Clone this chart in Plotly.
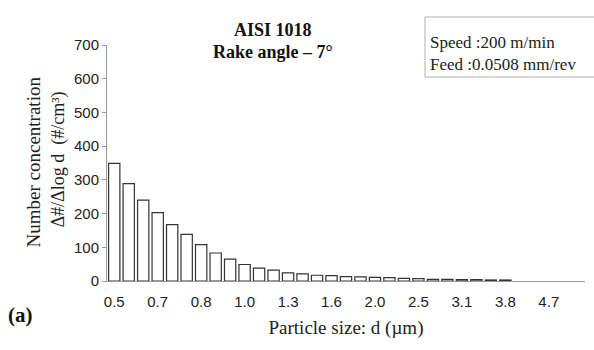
import plotly.graph_objects as go

# Aerodynamic particle size channels (µm) and number concentration dN/dlogd (#/cm³)
sizes = ["0.542", "0.583", "0.626", "0.673", "0.723", "0.777", "0.835", "0.898",
         "0.965", "1.037", "1.114", "1.197", "1.286", "1.382", "1.486", "1.596",
         "1.715", "1.843", "1.981", "2.129", "2.288", "2.458", "2.642", "2.839",
         "3.051", "3.278", "3.523", "3.786", "4.068", "4.371", "4.698", "5.048",
         "5.425"]
concentration = [349, 289, 240, 203, 167, 138, 108, 83, 65, 49, 38, 32, 24, 21,
                 17, 16, 13, 12, 11, 10, 8, 7, 5, 5, 4, 4, 3, 3, 0, 0, 0, 0, 0]

# every third channel is labelled, rounded to one decimal
tick_vals = sizes[::3]
tick_text = [f"{float(s):.1f}" for s in tick_vals]

W, H = 594, 350
L, R, T, B = 107, 9, 45, 69
plot_w = W - L - R
plot_h = H - T - B


def px(x):
    return (x - L) / plot_w


def py(y):
    return (H - B - y) / plot_h


serif = "Liberation Serif, Times New Roman, serif"
sans = "Liberation Sans, Arial, sans-serif"

# empty channels get no outline so they don't show as dashes on the axis
outline_w = [1.2 if v > 0 else 0 for v in concentration]

fig = go.Figure(go.Bar(
    x=sizes, y=concentration,
    marker=dict(color="white", line=dict(color="#333333", width=outline_w)),
    showlegend=False,
))

fig.update_layout(
    width=W, height=H,
    margin=dict(l=L, r=R, t=T, b=B),
    paper_bgcolor="white", plot_bgcolor="white",
    bargap=0.22,
    xaxis=dict(
        type="category", tickmode="array", tickvals=tick_vals, ticktext=tick_text,
        showline=True, linecolor="#9a9a9a", linewidth=1, ticks="",
        showgrid=False, zeroline=False, ticklabelstandoff=7,
        tickfont=dict(family=sans, size=15, color="#222"),
        title=dict(text="Particle size: d (\u00b5m)", standoff=11,
                   font=dict(family=serif, size=19, color="#222")),
    ),
    yaxis=dict(
        range=[0, 700], dtick=100, showline=True, linecolor="#9a9a9a",
        linewidth=1, ticks="outside", ticklen=4, tickcolor="#9a9a9a",
        showgrid=False, zeroline=False,
        tickfont=dict(family=sans, size=15, color="#222"),
    ),
    annotations=[
        dict(text="<b>AISI 1018</b>", x=px(273), y=py(18), xref="paper", yref="paper",
             showarrow=False, font=dict(family=serif, size=18, color="#111")),
        dict(text="<b>Rake angle \u2013 7\u00b0</b>", x=px(273), y=py(40), xref="paper",
             yref="paper", showarrow=False, font=dict(family=serif, size=18, color="#111")),
        dict(text="Number concentration", x=px(20), y=py(162), xref="paper", yref="paper",
             textangle=-90, showarrow=False, font=dict(family=serif, size=19, color="#222")),
        dict(text="\u0394#/\u0394log d  (#/cm\u00b3)", x=px(45), y=py(160), xref="paper",
             yref="paper", textangle=-90, showarrow=False,
             font=dict(family=serif, size=18, color="#222")),
        dict(text="Speed :200 m/min", x=px(428), y=py(31), xref="paper", yref="paper",
             xanchor="left", showarrow=False, font=dict(family=serif, size=17, color="#222")),
        dict(text="Feed :0.0508 mm/rev", x=px(428), y=py(53), xref="paper", yref="paper",
             xanchor="left", showarrow=False, font=dict(family=serif, size=17, color="#222")),
        dict(text="<b>(a)</b>", x=px(6), y=py(329), xref="paper", yref="paper",
             xanchor="left", showarrow=False, font=dict(family=serif, size=21, color="#111")),
    ],
    shapes=[
        dict(type="rect", xref="paper", yref="paper", x0=px(425), x1=px(600),
             y0=py(77), y1=py(17), line=dict(color="#b0b0b0", width=1)),
    ],
)

fig.write_html("out.html")
